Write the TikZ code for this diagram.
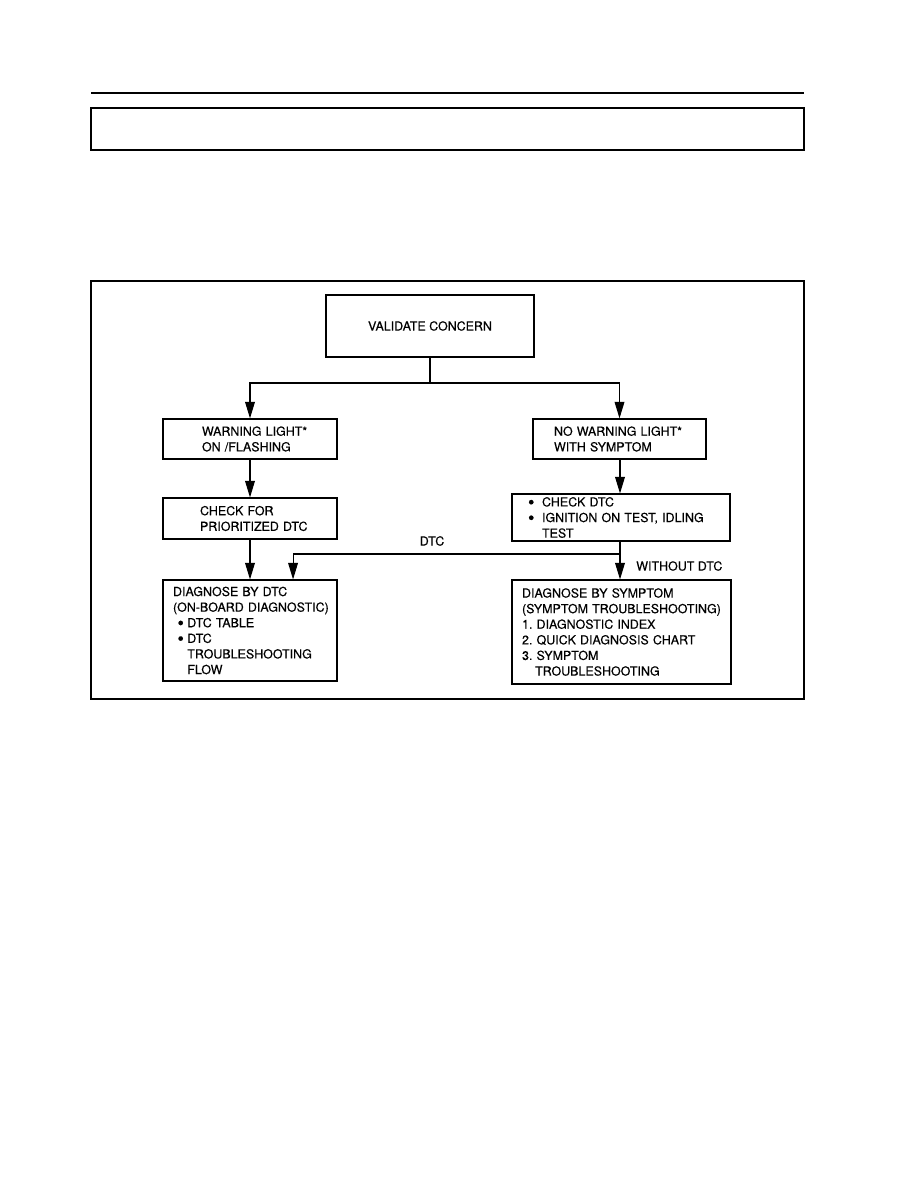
\documentclass[tikz,border=0pt]{standalone}
\usepackage{fontspec}
\setmainfont[FakeBold=0.4]{TeX Gyre Heros}
\usetikzlibrary{arrows.meta, positioning, calc}
\frenchspacing

\newcommand{\bul}[1]{\makebox[#1][l]{\smash{\raisebox{-1.3pt}{\scalebox{1.45}{\textbullet}}}}}

\tikzset{
  box/.style={draw, line width=0.8pt, align=left, inner xsep=0pt, inner ysep=1pt,
    font=\fontsize{8.3}{10.4}\selectfont},
  lpad/.style={execute at begin node={\leftskip=#1\relax}},
  link/.style={line width=0.7pt},
  arr/.style={link, -{Triangle[length=11pt, width=6.5pt]}},
  lbl/.style={font=\fontsize{8.3}{10.4}\selectfont, inner sep=0pt},
}

\begin{document}
\begin{tikzpicture}[x=0.6667pt, y=-0.6667pt]
  \useasboundingbox (0,0) rectangle (918,1188);

  % page header and frame
  \draw[line width=1.4pt] (91,93) -- (804,93);
  \draw[line width=0.8pt] (91,108) rectangle (804,150);
  \draw[line width=0.7pt] (91,281) rectangle (804,699);

  % boxes
  \node[box, align=center, minimum width=138.7pt, minimum height=41.3pt] (valid) at (430,326) {VALIDATE CONCERN};
  \node[box, text width=116pt, minimum height=26.7pt, lpad=26pt] (warn) at (250,439) {WARNING LIGHT*\\ON /FLASHING};
  \node[box, text width=115.3pt, minimum height=26.7pt, lpad=14pt] (nowarn) at (619.5,439) {NO WARNING LIGHT*\\WITH SYMPTOM};
  \node[box, text width=116pt, minimum height=27.3pt, lpad=24.7pt] (check) at (250,518.5) {CHECK FOR\\PRIORITIZED DTC};
  \node[box, text width=145.3pt, minimum height=31.3pt, lpad=10.7pt] (chkdtc) at (621,517.5) {\bul{9.3pt}CHECK DTC\\\bul{9.3pt}IGNITION ON TEST, IDLING\\\hspace*{9.3pt}TEST};
  \node[box, text width=116pt, minimum height=67.3pt, lpad=6.7pt] (diagdtc) at (250,630.5) {DIAGNOSE BY DTC\\(ON-BOARD DIAGNOSTIC)\\\hspace*{3pt}\bul{6.5pt}DTC TABLE\\\hspace*{3pt}\bul{6.5pt}DTC\\\hspace*{9.5pt}TROUBLESHOOTING\\\hspace*{9.5pt}FLOW};
  \node[box, text width=146pt, minimum height=69.3pt, lpad=6.7pt] (diagsym) at (621.5,632) {DIAGNOSE BY SYMPTOM\\(SYMPTOM TROUBLESHOOTING)\\1. DIAGNOSTIC INDEX\\2. QUICK DIAGNOSIS CHART\\3. SYMPTOM\\\hspace*{8.7pt}TROUBLESHOOTING};

  % connectors
  \coordinate (split) at (430,383);
  \coordinate (fork) at (620,554);
  \draw[link] (valid) -- (split);
  \draw[arr] (split) -| (warn.north);
  \draw[arr] (split) -| (nowarn.north);
  \draw[arr] (warn) -- (check);
  \draw[arr] (check) -- (diagdtc);
  \draw[arr] (nowarn.south -| fork) -- (chkdtc.north -| fork);
  \draw[link] (chkdtc.south -| fork) -- (fork);
  \draw[arr] (fork) -- (diagsym.north -| fork);
  \draw[arr] (fork) -| ([xshift=28.7pt]diagdtc.north);

  % labels
  \node[lbl] (dtclbl) at (432,541) {DTC};
  \node[lbl, anchor=west] (nodtclbl) at (636,566) {WITHOUT DTC};
\end{tikzpicture}
\end{document}
